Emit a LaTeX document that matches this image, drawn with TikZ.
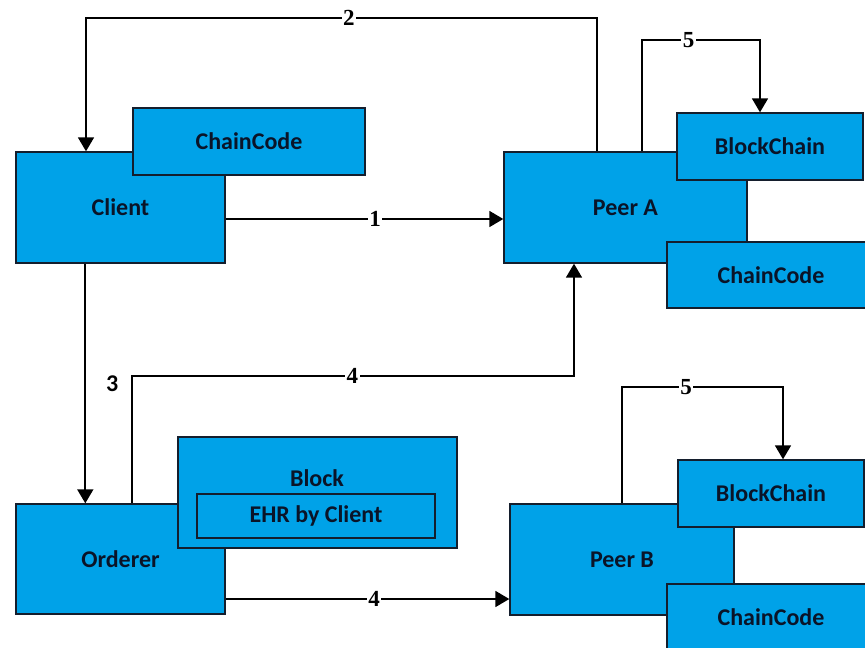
\documentclass[tikz,border=0pt]{standalone}
\usepackage{fontspec}
\newfontfamily\boxfont{Carlito}
\newfontfamily\numfont{Liberation Serif}
\usetikzlibrary{arrows.meta}
\definecolor{boxblue}{RGB}{0,162,232}
\definecolor{boxline}{RGB}{20,30,45}
\definecolor{boxtext}{RGB}{10,20,40}
\tikzset{
  box/.style={draw=boxline, line width=1.4pt, fill=boxblue, inner sep=0pt,
    font=\boxfont\bfseries\fontsize{24}{28}\selectfont, text=boxtext},
  txt/.style={inner sep=0pt, font=\boxfont\bfseries\fontsize{24}{28}\selectfont, text=boxtext},
  arr/.style={line width=1.8pt, draw=black, -{Triangle[length=14pt,width=16pt]}},
  lbl/.style={fill=white, inner sep=1.5pt, font=\numfont\bfseries\fontsize{23}{26}\selectfont},
  lblplain/.style={inner sep=0pt, font=\boxfont\bfseries\fontsize{24}{28}\selectfont}
}
\begin{document}
\begin{tikzpicture}[x=1pt,y=-1pt]
\useasboundingbox (0,0) rectangle (865,648);
\clip (0,0) rectangle (865,648);
\fill[white] (0,0) rectangle (865,648);
% boxes
\node[box, minimum width=209pt, minimum height=111pt] (client) at (120.5,207.5) {Client};
\node[box, minimum width=232pt, minimum height=67pt] (ccC) at (249,141.5) {ChainCode};
\node[box, minimum width=243pt, minimum height=111pt] (peerA) at (625.5,207.5) {Peer A};
\node[box, minimum width=186pt, minimum height=67pt] (bcA) at (770,146.5) {BlockChain};
\node[box, minimum width=208pt, minimum height=66pt] (ccA) at (771,275) {ChainCode};
\node[box, minimum width=209pt, minimum height=110pt] (orderer) at (120.5,559) {Orderer};
\node[box, minimum width=279pt, minimum height=111pt] (block) at (317.5,492.5) {};
\node[txt] (blocklbl) at (317,478) {Block};
\node[box, minimum width=238pt, minimum height=44pt] (ehr) at (316,516) {EHR by Client};
\node[box, minimum width=224pt, minimum height=111pt] (peerB) at (622,559.5) {Peer B};
\node[box, minimum width=186pt, minimum height=67pt] (bcB) at (771,493.5) {BlockChain};
\node[box, minimum width=208pt, minimum height=66pt] (ccB) at (771,617) {ChainCode};
% helper corners
\coordinate (k2) at (86,18);
\coordinate (k4) at (574,376);
\coordinate (k5a) at (760,40);
\coordinate (k5b) at (783,387);
% connectors
\draw[arr] ([yshift=-11.5pt]client.east) -- node[lbl,pos=0.538]{1} ([yshift=-11.5pt]peerA.west);
\draw[arr] ([xshift=94pt]peerA.north west) |- node[lbl,pos=0.743]{2} (k2) -- (k2 |- client.north);
\draw[arr] ([xshift=70pt]client.south west) -- node[lblplain,pos=0.5,xshift=27pt]{3} ([xshift=70pt]orderer.north west);
\draw[arr] ([xshift=117pt]orderer.north west) |- node[lbl,pos=0.749]{4} (k4) -- (k4 |- peerA.south);
\draw[arr] ([yshift=-40pt]orderer.east) -- node[lbl,pos=0.523]{4} ([yshift=-40pt]orderer.east -| peerB.west);
\draw[arr] ([xshift=139pt]peerA.north west) |- node[lbl,pos=0.697]{5} (k5a) -- (k5a |- bcA.north);
\draw[arr] (peerB.north) |- node[lbl,pos=0.699]{5} (k5b) -- (k5b |- bcB.north);
\end{tikzpicture}
\end{document}
